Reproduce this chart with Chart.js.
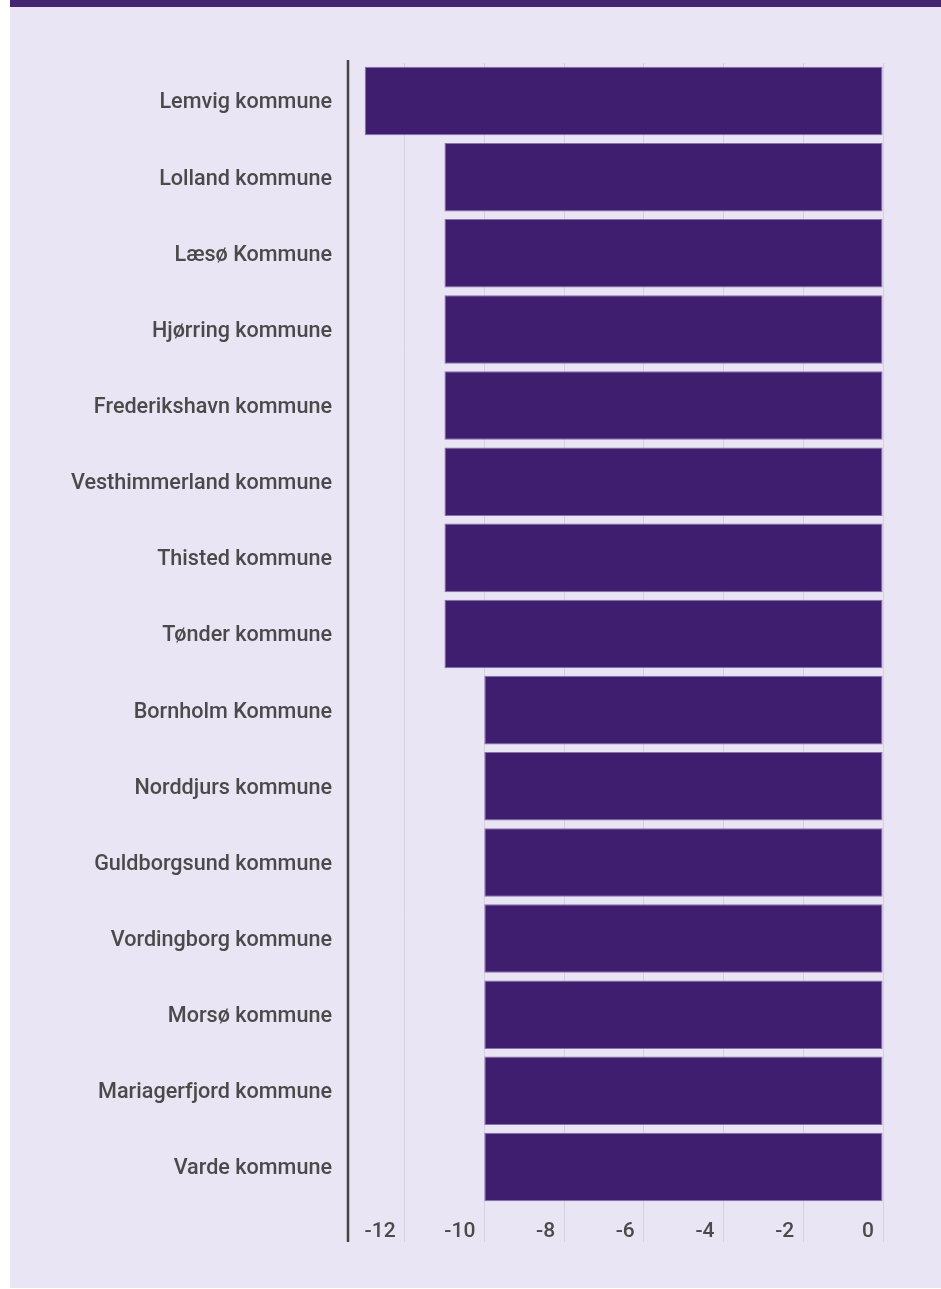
<!DOCTYPE html>
<html>
<head>
<meta charset="utf-8">
<script src="https://cdn.jsdelivr.net/npm/chart.js@4"></script>
<style>
  html, body { margin: 0; padding: 0; background: #ffffff; }
  #panel {
    position: absolute; left: 10px; top: 0; width: 931px; height: 1281px;
    background: #e9e5f4; border-top: 7px solid #43266f;
  }
  #chart { display: block; }
</style>
</head>
<body>
<div id="panel"><canvas id="chart" width="931" height="1281"></canvas></div>
<script>
// kommuner, sorted as shown
const categories = [
  'Lemvig kommune', 'Lolland kommune', 'Læsø Kommune', 'Hjørring kommune',
  'Frederikshavn kommune', 'Vesthimmerland kommune', 'Thisted kommune', 'Tønder kommune',
  'Bornholm Kommune', 'Norddjurs kommune', 'Guldborgsund kommune', 'Vordingborg kommune',
  'Morsø kommune', 'Mariagerfjord kommune', 'Varde kommune'
];
const values = [-13, -11, -11, -11, -11, -11, -11, -11, -10, -10, -10, -10, -10, -10, -10];
const tickValues = [-12, -10, -8, -6, -4, -2, 0];

const textColor = '#4a4a4a';
const barColor = '#3f1e70';

// left axis line, runs from top of plot down through the tick zone
const axisLine = {
    id: 'axisLine',
    afterDraw(chart) {
        const ctx = chart.ctx;
        const area = chart.chartArea;
        const xs = chart.scales.x;
        ctx.save();
        ctx.strokeStyle = '#444444';
        ctx.lineWidth = 2.5;
        ctx.beginPath();
        ctx.moveTo(area.left, area.top - 3);
        ctx.lineTo(area.left, area.bottom + xs.options.grid.tickLength);
        ctx.stroke();
        ctx.restore();
    }
};

new Chart(document.getElementById('chart').getContext('2d'), {
    type: 'bar',
    data: {
        labels: categories,
        datasets: [{
            data: values,
            backgroundColor: barColor,
            borderColor: 'rgba(125,100,165,0.9)',
            borderWidth: 1,
            borderSkipped: false,
            barPercentage: 0.9,
            categoryPercentage: 1.0
        }]
    },
    options: {
        indexAxis: 'y',
        responsive: false,
        animation: false,
        devicePixelRatio: 1,
        layout: { padding: { top: 56, right: 58, bottom: 0, left: 0 } },
        plugins: {
            legend: { display: false },
            tooltip: { enabled: false }
        },
        scales: {
            x: {
                min: -13.42,
                max: 0,
                afterBuildTicks: scale => {
                    scale.ticks = tickValues.map(v => ({ value: v }));
                },
                afterFit: scale => { scale.height = 83; },
                grid: {
                    color: '#d6d1e2',
                    lineWidth: 1,
                    tickLength: 37,
                    tickColor: '#d6d1e2'
                },
                border: { display: false },
                ticks: {
                    align: 'end',
                    labelOffset: -9,
                    padding: -23,
                    color: textColor,
                    font: { family: 'Roboto', size: 21, weight: '500' }
                }
            },
            y: {
                afterFit: scale => { scale.width = 338; },
                grid: { display: false, drawTicks: false },
                border: { display: false },
                ticks: {
                    padding: 16,
                    labelOffset: 2,
                    color: textColor,
                    font: { family: 'Roboto', size: 21.6, weight: '500' }
                }
            }
        }
    },
    plugins: [axisLine]
});
</script>
</body>
</html>
